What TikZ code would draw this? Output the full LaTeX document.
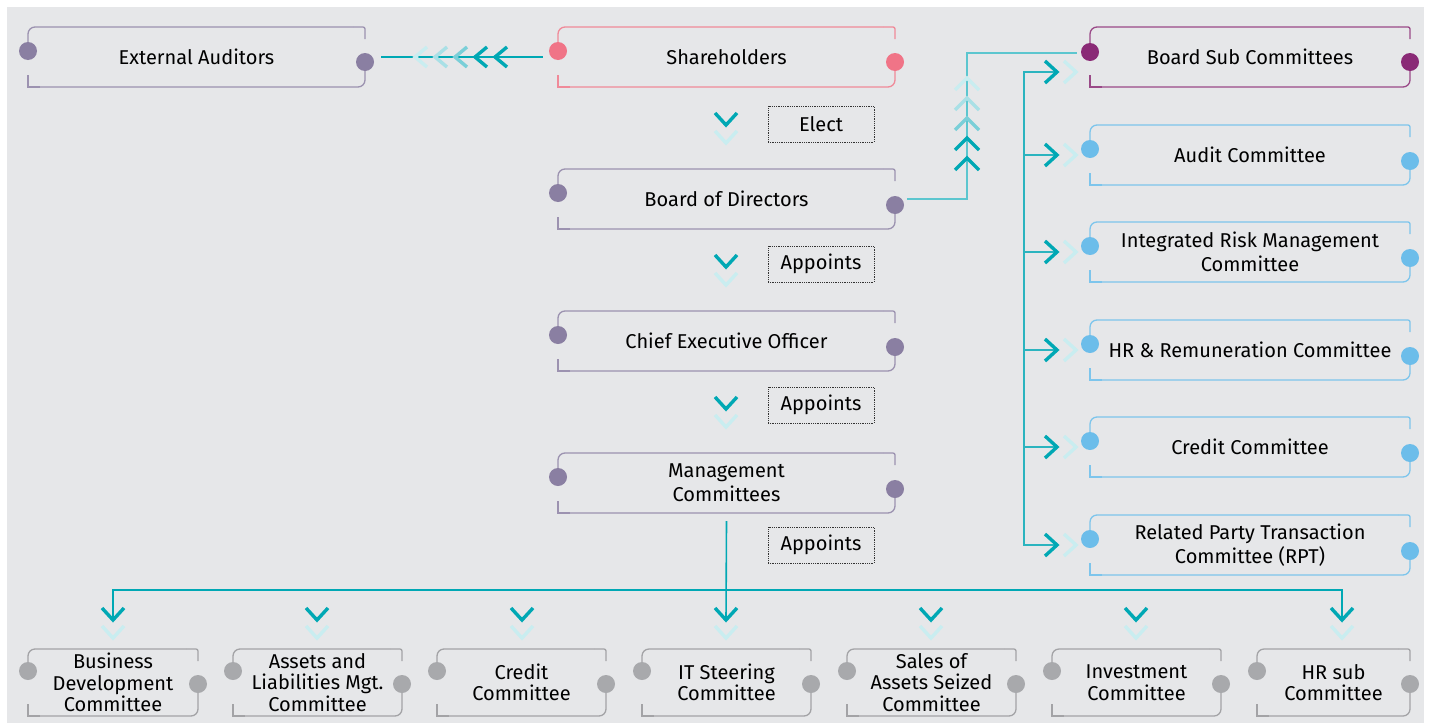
\documentclass[tikz,border=0pt]{standalone}
\usepackage{fontspec}
\setmainfont{Fira Sans}
\definecolor{bg}{HTML}{E6E7E9}
\definecolor{pgline}{HTML}{9C92B0}\definecolor{pgdot}{HTML}{8A7FA2}
\definecolor{pkline}{HTML}{F08A99}\definecolor{pkdot}{HTML}{F07487}
\definecolor{mgline}{HTML}{9A4A88}\definecolor{mgdot}{HTML}{8A2A76}
\definecolor{blline}{HTML}{7DC5EC}\definecolor{bldot}{HTML}{6CBDEA}
\definecolor{gyline}{HTML}{A3A3A6}\definecolor{gydot}{HTML}{A8A9AC}
\definecolor{tdark}{HTML}{00A8B4}
\definecolor{tmid}{HTML}{7ACFD8}
\definecolor{tlight}{HTML}{A9E0E6}
\definecolor{tpale}{HTML}{C9EDF0}
\definecolor{tsoft}{HTML}{5CC6CF}
\definecolor{tbus}{HTML}{2BB4BF}

% frame of a box: line to the top-left corner from the left dot, right dot to bottom-right
\newcommand\boxfont{\fontsize{20}{24}\selectfont}
\newcommand\orgbox[9]{%
  % #1 name, #2 left, #3 top, #4 right, #5 bottom, #6 colour set,
  % #7 left dot below top, #8 right dot above bottom, #9 label
  \node[boxlabel, minimum width={#4-#2}, minimum height={#5-#3}, font=\boxfont]
    (#1) at ({(#2+#4)/2},{(#3+#5)/2}) {#9};
  \coordinate (#1-l) at (#2,{#3+#7});
  \coordinate (#1-r) at (#4,{#5-#8});
  \draw[frame, draw=#6line, rounded corners=7] (#1-l) -- (#2,#3) -- ({#4-12},#3);
  \draw[frame, draw=#6line, rounded corners=2] ({#4-12},#3) -- (#4,#3) -- (#4,{#3+12});
  \draw[frame, draw=#6line, rounded corners=7] (#1-r) -- (#4,#5) -- ({#2+12},#5);
  \draw[frame, draw=#6line] ({#2+12},#5) -- (#2,#5) -- (#2,{#5-12});
  \fill[#6dot] (#1-l) circle (9);
  \fill[#6dot] (#1-r) circle (9);
}
% chevrons: apex at (#1,#2)
\newcommand\chevD[3]{\draw[chev,#3] ({#1-11},{#2-12}) -- (#1,#2) -- ({#1+11},{#2-12});}
\newcommand\chevU[3]{\draw[chev,#3] ({#1-12},{#2+12}) -- (#1,#2) -- ({#1+12},{#2+12});}
\newcommand\chevR[3]{\draw[chev,#3] ({#1-12},{#2-11}) -- (#1,#2) -- ({#1-12},{#2+11});}
\newcommand\chevL[3]{\draw[chev,#3] ({#1+12},{#2-10}) -- (#1,#2) -- ({#1+12},{#2+10});}

\begin{document}
\begin{tikzpicture}[x=1pt,y=-1pt,
  boxlabel/.style={inner sep=0pt, align=center, text=black},
  frame/.style={line width=1.3pt},
  chev/.style={line width=3.4pt, miter limit=10},
  tag/.style={draw=black!80, densely dotted, line width=0.8pt, minimum width=106pt,
    minimum height=36pt, inner sep=0pt, font=\fontsize{20}{24}\selectfont},
  link/.style={draw=tdark, line width=1.6pt},
  softlink/.style={draw=tsoft, line width=1.6pt},
  buslink/.style={draw=tbus, line width=1.6pt}]
\useasboundingbox (0,0) rectangle (1429,723);
\fill[white] (0,0) rectangle (1429,723);
\fill[bg] (7,7) rectangle (1424,723);

% central column
\orgbox{ea}{28}{27}{365}{87}{pg}{24}{25}{External Auditors}
\orgbox{sh}{558}{27}{895}{87}{pk}{24}{25}{Shareholders}
\orgbox{bod}{558}{169}{895}{229}{pg}{24}{24}{Board of Directors}
\orgbox{ceo}{558}{311}{895}{371}{pg}{24}{24}{Chief Executive Officer}
\orgbox{mc}{558}{453}{895}{513}{pg}{24}{24}{Management\\Committees}

% board sub committees
\orgbox{bsc}{1090}{27}{1410}{87}{mg}{25}{25}{Board Sub Committees}
\orgbox{aud}{1090}{125}{1410}{185}{bl}{24}{24}{Audit Committee}
\orgbox{irm}{1090}{222}{1410}{282}{bl}{24}{24}{Integrated Risk Management\\Committee}
\orgbox{hrr}{1090}{320}{1410}{380}{bl}{24}{24}{HR \& Remuneration Committee}
\orgbox{crc}{1090}{417}{1410}{477}{bl}{24}{24}{Credit Committee}
\orgbox{rpt}{1090}{515}{1410}{575}{bl}{24}{24}{Related Party Transaction\\Committee (RPT)}

% management committees
\renewcommand\boxfont{\fontsize{20}{21.5}\selectfont}
\orgbox{bdc}{28}{649}{198}{716}{gy}{22}{32}{Business\\Development\\Committee}
\orgbox{alc}{233}{649}{402}{716}{gy}{22}{32}{Assets and\\Liabilities Mgt.\\Committee}
\orgbox{cc}{437}{649}{606}{716}{gy}{22}{32}{Credit\\Committee}
\orgbox{itc}{642}{649}{811}{716}{gy}{22}{32}{IT Steering\\Committee}
\orgbox{sac}{847}{649}{1016}{716}{gy}{22}{32}{Sales of\\Assets Seized\\Committee}
\orgbox{inv}{1052}{649}{1221}{716}{gy}{22}{32}{Investment\\Committee}
\orgbox{hrs}{1257}{649}{1410}{716}{gy}{22}{32}{HR sub\\Committee}

% relation tags
\node[tag] (elect) at (821,124) {Elect};
\node[tag] (app1) at (821,264) {Appoints};
\node[tag] (app2) at (821,405) {Appoints};
\node[tag] (app3) at (821,545) {Appoints};

% chevron pairs down the central column
\chevD{726}{125}{tdark}\chevD{726}{143}{tpale}
\chevD{726}{267}{tdark}\chevD{726}{285}{tpale}
\chevD{726}{409}{tdark}\chevD{726}{427}{tpale}

% shareholders -> external auditors
\draw[link] ([xshift=16]ea.east) -- ([xshift=-15]sh.west);
\chevL{415}{57}{tpale}\chevL{435}{57}{tlight}\chevL{455}{57}{tmid}
\chevL{475}{57}{tdark}\chevL{495}{57}{tdark}

% board of directors -> board sub committees
\coordinate (riser) at (967,53);
\coordinate (bsc-in) at (1077,53);
\draw[softlink] ([xshift=12]bod.east) -| (riser) -- (bsc-in);
\chevU{967}{78}{tpale}\chevU{967}{98}{tlight}\chevU{967}{118}{tmid}
\chevU{967}{138}{tdark}\chevU{967}{158}{tdark}

% bus feeding the committees
\coordinate (bus-top) at (1024,72);
\coordinate (bus-bot) at (1024,545);
\foreach \n/\y in {bsc/72,aud/155,irm/252,hrr/350,crc/447,rpt/545}{
  \coordinate (\n-a) at (1057,\y);
}
\draw[buslink] (bsc-a) -- (bus-top) -- (bus-bot) -- (rpt-a);
\foreach \n in {aud,irm,hrr,crc}{
  \draw[buslink] (bus-top |- \n-a) -- (\n-a);
}
\foreach \n/\y in {bsc/72,aud/155,irm/252,hrr/350,crc/447,rpt/545}{
  \chevR{1057}{\y}{tdark}\chevR{1076}{\y}{tpale}
}

% management committees -> their committees
\foreach \n/\x in {bdc/113,alc/317,cc/522,itc/726,sac/931,inv/1136,hrs/1342}{
  \coordinate (\n-a) at (\x,620);
}
\coordinate (bar-l) at (113,590);
\coordinate (bar-r) at (1342,590);
\draw[link] (bdc-a) -- (bar-l) -- (bar-r) -- (hrs-a);
\draw[link] (mc.south) ++(0,8) -- (itc-a);
\foreach \x in {113,317,522,726,931,1136,1342}{
  \chevD{\x}{620}{tdark}\chevD{\x}{638}{tpale}
}
\end{tikzpicture}
\end{document}
